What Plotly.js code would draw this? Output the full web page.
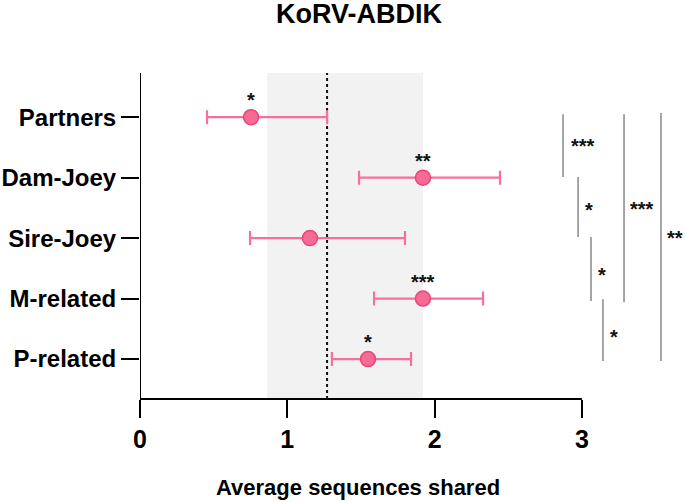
<!DOCTYPE html>
<html>
<head>
<meta charset="utf-8">
<script src="https://cdn.plot.ly/plotly-3.0.1.min.js"></script>
<style>html,body{margin:0;padding:0;background:#fff;}#chart{width:685px;height:502px;}</style>
</head>
<body>
<div id="chart"></div>
<script>
// Data
const categories = ["Partners", "Dam-Joey", "Sire-Joey", "M-related", "P-related"];
const means = [0.754, 1.921, 1.154, 1.921, 1.548];
const lower = [0.455, 1.487, 0.747, 1.589, 1.303];
const upper = [1.27, 2.444, 1.799, 2.329, 1.84];
const pointStars = ["*", "**", "", "***", "*"];
const refBand = [0.862, 1.921];
const refLine = 1.27;
// significance brackets (category index span, x position, label)
const bracketFrom = [-0.05, 0.99, 1.98, 3.01, -0.05, -0.07];
const bracketTo = [0.99, 1.98, 3.04, 4.03, 3.06, 4.03];
const bracketX = [2.872, 2.974, 3.062, 3.143, 3.286, 3.537];
const bracketLabels = ["***", "*", "*", "*", "***", "**"];
const bracketLabelX = [3.008, 3.048, 3.136, 3.218, 3.408, 3.632];
const bracketLabelY = [0.43, 1.49, 2.56, 3.59, 1.47, 1.95];
const xTicks = [0, 1, 2, 3];

const FONT = "Liberation Sans, Arial, Helvetica, sans-serif";
const pink = "#f76a93";

const yIdx = categories.map((c, i) => i);
const trace = {
  type: "scatter",
  mode: "markers",
  x: means,
  y: yIdx,
  marker: {size: 15, color: pink, line: {color: "#e8457a", width: 1.5}},
  error_x: {
    type: "data",
    symmetric: false,
    array: upper.map((u, i) => u - means[i]),
    arrayminus: lower.map((l, i) => means[i] - l),
    color: "#f7709a",
    thickness: 2.2,
    width: 7
  },
  cliponaxis: false,
  hoverinfo: "skip"
};

const shapes = [
  {type: "rect", xref: "x", yref: "paper", x0: refBand[0], x1: refBand[1], y0: 0, y1: 1,
   fillcolor: "#f2f2f2", line: {width: 0}, layer: "below"},
  {type: "line", xref: "x", yref: "paper", x0: refLine, x1: refLine, y0: 0, y1: 1,
   line: {color: "#111", width: 2, dash: "dot"}, layer: "below"},
  {type: "line", xref: "x", yref: "paper", x0: 0, x1: 0, y0: 0, y1: 1, line: {color: "#000", width: 2}},
  {type: "line", xref: "x", yref: "paper", x0: 0, x1: 3, y0: 0, y1: 0, line: {color: "#000", width: 2}}
];
bracketX.forEach((bx, i) => {
  shapes.push({type: "line", xref: "x", yref: "y", x0: bx, x1: bx, y0: bracketFrom[i], y1: bracketTo[i],
    line: {color: "#888", width: 1.5}});
});

const annotations = [];
means.forEach((m, i) => {
  if (pointStars[i]) {
    annotations.push({x: m, y: i, xref: "x", yref: "y", text: "<b>" + pointStars[i] + "</b>", showarrow: false,
      yshift: 17, font: {size: 20, color: "#111", family: FONT}});
  }
});
bracketLabels.forEach((t, i) => {
  annotations.push({x: bracketLabelX[i], y: bracketLabelY[i], xref: "x", yref: "y", text: "<b>" + t + "</b>",
    showarrow: false, yshift: -3, font: {size: 20, color: "#111", family: FONT}});
});
annotations.push({x: 0.407, y: 1.181, xref: "paper", yref: "paper", text: "<b>KoRV-ABDIK</b>",
  showarrow: false, yanchor: "middle", font: {size: 27, color: "#000", family: FONT}});
annotations.push({x: 1.48, y: -0.273, xref: "x", yref: "paper", text: "<b>Average sequences shared</b>",
  showarrow: false, yanchor: "middle", font: {size: 22, color: "#000", family: FONT}});

const layout = {
  width: 685, height: 502,
  margin: {l: 140, r: 5, t: 73, b: 103},
  paper_bgcolor: "#fff", plot_bgcolor: "#fff",
  showlegend: false,
  xaxis: {
    range: [0, 3.666], showgrid: false, zeroline: false, showline: false,
    tickmode: "array", tickvals: xTicks, ticktext: xTicks.map(v => "<b>" + v + "</b>"),
    ticks: "outside", ticklen: 18, tickwidth: 2, tickcolor: "#000",
    tickfont: {size: 25, color: "#000", family: FONT}
  },
  yaxis: {
    range: [4.66, -0.73], showgrid: false, zeroline: false, showline: false,
    tickmode: "array", tickvals: yIdx, ticktext: categories.map(c => "<b>" + c + "</b>"),
    ticks: "outside", ticklen: 18, tickwidth: 2, tickcolor: "#000",
    tickfont: {size: 24, color: "#000", family: FONT}
  },
  shapes: shapes,
  annotations: annotations
};

Plotly.newPlot("chart", [trace], layout, {displayModeBar: false, staticPlot: true});
</script>
</body>
</html>
